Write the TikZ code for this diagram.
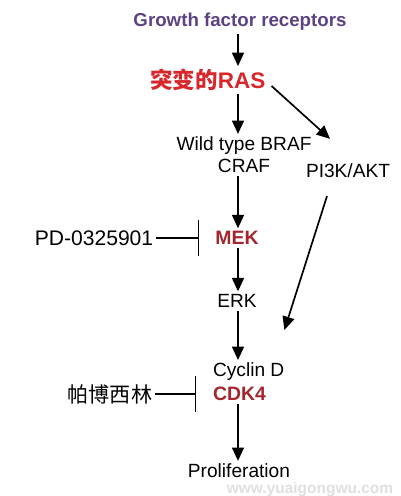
\documentclass[tikz,border=0pt]{standalone}
\usepackage{fontspec}
\setmainfont{Liberation Sans}
\newfontfamily\cjkfont{Noto Sans CJK SC}
\usepackage{xcolor}
\usetikzlibrary{arrows.meta,positioning,calc}
\definecolor{receptorpurple}{HTML}{5B4383}
\definecolor{rasred}{HTML}{D8262A}
\definecolor{kinasered}{HTML}{A3262E}

\begin{document}
\begin{tikzpicture}[
				x=0.025cm, y=-0.025cm,
				lbl/.style={inner sep=2pt, align=center,
						font=\fontsize{13.6}{15.6}\selectfont},
				hit/.style={inner sep=2pt,
						font=\fontsize{13.8}{15.6}\selectfont\bfseries, text=kinasered},
				drug/.style={inner sep=2pt, font=\fontsize{15}{17}\selectfont},
				watermark/.style={inner sep=0pt, text=gray!25,
						font=\fontsize{11}{12}\selectfont\bfseries},
				arr/.style={-{Triangle[length=9.5pt,width=8.5pt]}, line width=1.2pt},
				inh/.style={-{Bar[width=26pt]}, line width=0.9pt}]

			\useasboundingbox (0,0) rectangle (401,496);
			\coordinate (axis) at (238,0);

			% Receptors and RAS
			\node[inner sep=2pt, text=receptorpurple,
				font=\fontsize{13.3}{15}\selectfont\bfseries] (gfr) at (240,22)
			{Growth factor receptors};
			\node[inner sep=2pt, text=rasred,
				font=\fontsize{16}{18}\selectfont\bfseries] (ras) at (208,80)
			{{\cjkfont 突变的}RAS};

			% RAF and PI3K branch
			\node[lbl] (braf) at (244,155) {Wild type BRAF\\CRAF};
			\node[lbl] (pi3k) at (348,171) {PI3K/AKT};

			% MAPK cascade
			\node[hit] (mek) at (237,238) {MEK};
			\node[drug] (pd) at (94,238) {PD-0325901};
			\node[lbl] (erk) at (237,301) {ERK};

			% Cell cycle
			\node[lbl, anchor=west] (cyclin) at (210,372) {Cyclin D};
			\node[hit, anchor=west] (cdk) at (210,394) {CDK4};
			\node[drug] (palbo) at (110,394) {\cjkfont 帕博西林};
			\node[lbl] (prolif) at (239,471) {Proliferation};

			\node[watermark] (site) at (310,490) {www.yuaigongwu.com};

			% Connectors
			\draw[arr] (gfr.south -| axis) -- (ras.north -| axis);
			\draw[arr] (ras.south -| axis) -- (braf.north -| axis);
			\draw[arr] ([shift={(3,6)}]ras.east) -- ([shift={(-18,-22)}]pi3k.north);
			\draw[arr] (braf.south -| axis) -- (mek.north -| axis);
			\draw[arr] (mek.south -| axis) -- (erk.north -| axis);
			\draw[arr] (erk.south -| axis) -- (cyclin.north -| axis);
			\draw[arr] ([shift={(-21,15)}]pi3k.south) -- ([shift={(-3,-30)}]cyclin.north east);
			\draw[arr] (cdk.south -| axis) -- (prolif.north -| axis);

			\draw[inh] (pd.east) -- ([shift={(-13,0)}]mek.west);
			\draw[inh] (palbo.east) -- ([shift={(-14,0)}]cdk.west);

		\end{tikzpicture}
\end{document}
